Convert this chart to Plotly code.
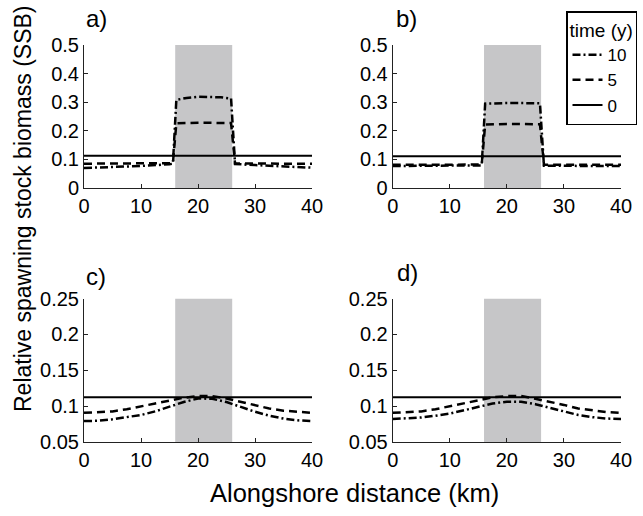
import plotly.graph_objects as go

# alongshore positions (km)
x_top = [0, 5, 10, 15, 15.6, 16.2, 18, 20, 22, 24, 25.8, 26.5, 30, 35, 40]
x_bot = [0, 2.5, 5, 7.5, 10, 12.5, 15, 17.5, 20, 22.5, 25, 27.5, 30, 32.5, 35, 37.5, 40]
x_flat = [0, 40]

# reserve (shaded) extent, km
reserve = [16, 26]

# panel a
a10 = [0.070, 0.073, 0.077, 0.083, 0.085, 0.308, 0.315, 0.319, 0.319, 0.317, 0.313, 0.084, 0.080, 0.075, 0.071]
a5 = [0.085, 0.085, 0.085, 0.086, 0.087, 0.226, 0.228, 0.228, 0.228, 0.228, 0.227, 0.086, 0.085, 0.085, 0.085]
a0 = [0.113, 0.113]

# panel b
b10 = [0.077, 0.077, 0.077, 0.078, 0.079, 0.295, 0.297, 0.297, 0.297, 0.297, 0.296, 0.078, 0.077, 0.077, 0.077]
b5 = [0.081, 0.081, 0.081, 0.081, 0.082, 0.222, 0.224, 0.224, 0.224, 0.224, 0.223, 0.081, 0.081, 0.081, 0.081]
b0 = [0.111, 0.111]

# panel c
c10 = [0.0795, 0.080, 0.082, 0.085, 0.088, 0.093, 0.0995, 0.106, 0.111, 0.1105, 0.106, 0.099, 0.0925, 0.087, 0.083, 0.0805, 0.0795]
c5 = [0.091, 0.0915, 0.093, 0.096, 0.0995, 0.104, 0.108, 0.112, 0.1143, 0.1143, 0.111, 0.1065, 0.1015, 0.097, 0.094, 0.092, 0.091]
c0 = [0.1125, 0.1125]

# panel d
d10 = [0.0824, 0.083, 0.0845, 0.087, 0.090, 0.0945, 0.0995, 0.104, 0.1065, 0.1065, 0.103, 0.098, 0.0925, 0.088, 0.085, 0.083, 0.0824]
d5 = [0.091, 0.0915, 0.093, 0.096, 0.100, 0.1045, 0.109, 0.1125, 0.1143, 0.1143, 0.1105, 0.1065, 0.102, 0.097, 0.094, 0.092, 0.091]
d0 = [0.1125, 0.1125]

x_ticks = [0, 10, 20, 30, 40]
y_ticks_top = [0, 0.1, 0.2, 0.3, 0.4, 0.5]
y_labels_top = ["0", "0.1", "0.2", "0.3", "0.4", "0.5"]
y_ticks_bot = [0.05, 0.1, 0.15, 0.2, 0.25]
y_labels_bot = ["0.05", "0.1", "0.15", "0.2", "0.25"]

W, H = 643, 516
FONT = "Liberation Sans, Arial, sans-serif"

panels = [
    # xaxis, yaxis, x, (y10, y5, y0), ylim, label
    ("x", "y", x_top, (a10, a5, a0), [0, 0.5], "a)"),
    ("x2", "y2", x_top, (b10, b5, b0), [0, 0.5], "b)"),
    ("x3", "y3", x_bot, (c10, c5, c0), [0.05, 0.25], "c)"),
    ("x4", "y4", x_bot, (d10, d5, d0), [0.05, 0.25], "d)"),
]

fig = go.Figure()

for i, (xa, ya, xs, (y10, y5, y0), ylim, lab) in enumerate(panels):
    first = i == 0
    fig.add_trace(go.Scatter(x=xs, y=y10, mode="lines", name="10", xaxis=xa, yaxis=ya,
                             line=dict(color="black", width=2.5, dash="8px,3px,2px,3px"),
                             showlegend=first))
    fig.add_trace(go.Scatter(x=xs, y=y5, mode="lines", name="5", xaxis=xa, yaxis=ya,
                             line=dict(color="black", width=2.5, dash="8px,5px"),
                             showlegend=first))
    fig.add_trace(go.Scatter(x=x_flat, y=y0, mode="lines", name="0", xaxis=xa, yaxis=ya,
                             line=dict(color="black", width=2),
                             showlegend=first))
    # shaded reserve
    fig.add_shape(type="rect", xref=xa, yref=ya, x0=reserve[0], x1=reserve[1],
                  y0=ylim[0], y1=ylim[1], fillcolor="#c6c6c8", line=dict(width=0),
                  layer="below")

# axis domains in pixels (left, right, top, bottom)
left_px = (84, 312)
right_px = (392.7, 621)
top_px = (45, 188)
bot_px = (298.5, 442.3)


def xdom(p):
    return [p[0] / W, p[1] / W]


def ydom(p):
    return [1 - p[1] / H, 1 - p[0] / H]


axis_common = dict(showline=True, linecolor="#222", linewidth=1, ticks="inside",
                   ticklen=4, tickcolor="#222", showgrid=False, zeroline=False,
                   tickfont=dict(size=20, color="black", family=FONT))

layout = dict(
    xaxis=dict(domain=xdom(left_px), anchor="y", range=[0, 40], tickvals=x_ticks, **axis_common),
    yaxis=dict(domain=ydom(top_px), anchor="x", range=[0, 0.5], tickvals=y_ticks_top,
               ticktext=y_labels_top, **axis_common),
    xaxis2=dict(domain=xdom(right_px), anchor="y2", range=[0, 40], tickvals=x_ticks, **axis_common),
    yaxis2=dict(domain=ydom(top_px), anchor="x2", range=[0, 0.5], tickvals=y_ticks_top,
                ticktext=y_labels_top, **axis_common),
    xaxis3=dict(domain=xdom(left_px), anchor="y3", range=[0, 40], tickvals=x_ticks, **axis_common),
    yaxis3=dict(domain=ydom(bot_px), anchor="x3", range=[0.05, 0.25], tickvals=y_ticks_bot,
                ticktext=y_labels_bot, **axis_common),
    xaxis4=dict(domain=xdom(right_px), anchor="y4", range=[0, 40], tickvals=x_ticks, **axis_common),
    yaxis4=dict(domain=ydom(bot_px), anchor="x4", range=[0.05, 0.25], tickvals=y_ticks_bot,
                ticktext=y_labels_bot, **axis_common),
)
fig.update_layout(**layout)

# panel letters
label_pos = [(96, 19), (406, 19), (96, 276), (407, 272)]
for (px, py), (_, _, _, _, _, lab) in zip(label_pos, panels):
    fig.add_annotation(x=px / W, y=1 - py / H, xref="paper", yref="paper", text=lab,
                       showarrow=False, xanchor="center", yanchor="middle",
                       font=dict(size=24, color="black", family=FONT))

# shared axis titles
fig.add_annotation(x=354 / W, y=1 - 493 / H, xref="paper", yref="paper",
                   text="Alongshore distance (km)", showarrow=False,
                   xanchor="center", yanchor="middle",
                   font=dict(size=25.5, color="black", family=FONT))
fig.add_annotation(x=23 / W, y=1 - 209 / H, xref="paper", yref="paper",
                   text="Relative spawning stock biomass (SSB)", showarrow=False,
                   textangle=-90, xanchor="center", yanchor="middle",
                   font=dict(size=23, color="black", family=FONT))

fig.update_layout(
    width=W, height=H,
    margin=dict(l=0, r=0, t=0, b=0, autoexpand=False),
    plot_bgcolor="white", paper_bgcolor="white",
    font=dict(family=FONT, color="black"),
    legend=dict(
        x=566 / W, y=1 - 11 / H, xanchor="left", yanchor="top",
        title=dict(text="time (y)", font=dict(size=19, family=FONT)),
        font=dict(size=17, family=FONT, color="black"),
        bordercolor="black", borderwidth=1.5, bgcolor="white",
        itemwidth=30, tracegroupgap=0, traceorder="normal",
    ),
)

# drop the browser's default 8px body margin so the figure sits at the page corner
fig.write_html("out.html", config={"displayModeBar": False},
               post_script="document.body.style.margin='0px';")
